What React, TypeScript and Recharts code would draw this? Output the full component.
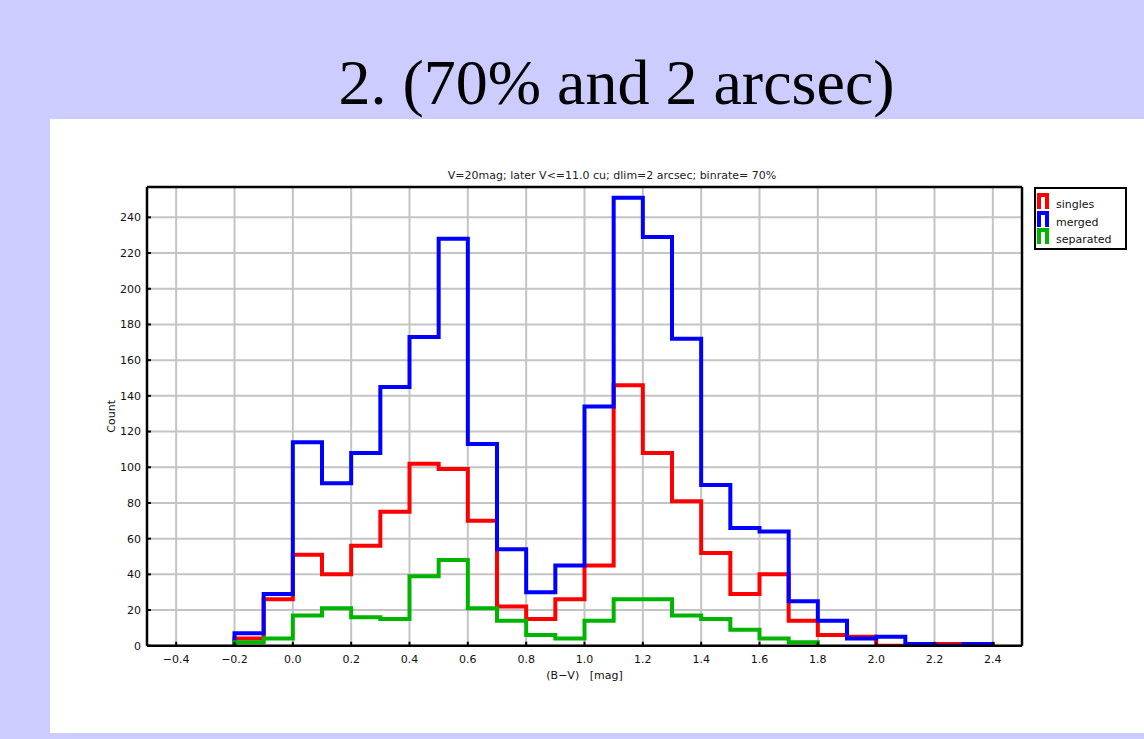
import React from 'react';
import { LineChart, Line, XAxis, YAxis, CartesianGrid } from 'recharts';

// left edge of each (B-V) bin, 0.1 mag wide
const binLefts = [
  -0.2, -0.1, 0.0, 0.1, 0.2, 0.3, 0.4, 0.5, 0.6, 0.7, 0.8, 0.9, 1.0,
  1.1, 1.2, 1.3, 1.4, 1.5, 1.6, 1.7, 1.8, 1.9, 2.0, 2.1, 2.2, 2.3,
];
const binWidth = 0.1;

const singles = [4, 26, 51, 40, 56, 75, 102, 99, 70, 22, 15, 26, 45, 146, 108, 81, 52, 29, 40, 14, 6, 5, 0, 0, 1];
const merged = [7, 29, 114, 91, 108, 145, 173, 228, 113, 54, 30, 45, 134, 251, 229, 172, 90, 66, 64, 25, 14, 4, 5, 1, 0, 1];
const separated = [2, 4, 17, 21, 16, 15, 39, 48, 21, 14, 6, 4, 14, 26, 26, 17, 15, 9, 4, 2];

const xTicks = [-0.4, -0.2, 0, 0.2, 0.4, 0.6, 0.8, 1.0, 1.2, 1.4, 1.6, 1.8, 2.0, 2.2, 2.4];
const yTicks = [0, 20, 40, 60, 80, 100, 120, 140, 160, 180, 200, 220, 240];

const seriesList = [
  { name: 'singles', counts: singles, color: '#ff0000' },
  { name: 'merged', counts: merged, color: '#0000ff' },
  { name: 'separated', counts: separated, color: '#00b400' },
];

// histogram outline: up from zero at the first edge, one step per bin, back to zero after the last
function toSteps(counts: number[]) {
  const pts = [{ x: binLefts[0], y: 0 }];
  counts.forEach((c, i) => pts.push({ x: binLefts[i], y: c }));
  const end = +(binLefts[counts.length - 1] + binWidth).toFixed(2);
  pts.push({ x: end, y: 0 });
  return pts;
}

const font = '"DejaVu Sans", Verdana, sans-serif';
const tickStyle = { fontSize: 11, fill: '#111', fontFamily: font };
const axisLine = { stroke: '#000', strokeWidth: 2.5 };
const tickLine = { stroke: '#000', strokeWidth: 2 };
const fmtX = (v: number) => v.toFixed(1).replace('-', '\u2212');

const KeyBox = () => (
  <div
    style={{
      position: 'absolute', left: 1034, top: 187, width: 93, height: 63,
      border: '2px solid #000', boxSizing: 'border-box', background: '#fff',
      paddingTop: 4, paddingLeft: 1, fontFamily: font, fontSize: 11, color: '#111',
    }}
  >
    {seriesList.map((s) => (
      <div key={s.name} style={{ display: 'flex', alignItems: 'flex-start', height: 17.5 }}>
        <svg width={12} height={16} style={{ display: 'block' }}>
          <path d="M2,16V2H10V16" fill="none" stroke={s.color} strokeWidth={4} />
        </svg>
        <span style={{ marginLeft: 7, marginTop: 5, lineHeight: '13px' }}>{s.name}</span>
      </div>
    ))}
  </div>
);

export default function App() {
  return (
    <div
      style={{
        position: 'absolute', left: 0, top: 0, width: 1144, height: 739,
        background: '#ccccff', overflow: 'hidden',
      }}
    >
      <div
        style={{
          position: 'absolute', left: 89, top: 51, width: 1055, textAlign: 'center',
          fontFamily: '"Liberation Serif", "Times New Roman", serif', fontSize: 64,
          lineHeight: '64px', color: '#000', whiteSpace: 'nowrap',
        }}
      >
        2. (70% and 2 arcsec)
      </div>
      <div style={{ position: 'absolute', left: 50, top: 119, width: 1094, height: 614, background: '#fff' }} />
      <div style={{ position: 'absolute', left: 0, top: 0 }}>
        <LineChart width={1144} height={739} margin={{ top: 187, right: 122, bottom: 57.25, left: 87 }}>
          <CartesianGrid stroke="#c4c4c4" strokeWidth={2} />
          {seriesList.map((s) => (
            <Line
              key={s.name}
              name={s.name}
              data={toSteps(s.counts)}
              dataKey="y"
              type="stepAfter"
              stroke={s.color}
              strokeWidth={4}
              strokeLinejoin="miter"
              strokeLinecap="butt"
              dot={false}
              activeDot={false}
              isAnimationActive={false}
            />
          ))}
          <XAxis
            type="number"
            dataKey="x"
            domain={[-0.5, 2.5]}
            ticks={xTicks}
            interval={0}
            height={36}
            tickSize={-4}
            tickMargin={13}
            tickFormatter={fmtX}
            tick={tickStyle}
            axisLine={axisLine}
            tickLine={tickLine}
            allowDataOverflow
            label={{
              value: '(B\u2212V)\u00a0\u00a0\u00a0[mag]',
              position: 'insideBottom',
              offset: 3,
              style: { fontSize: 11, fill: '#111', fontFamily: font },
            }}
          />
          <XAxis
            xAxisId="top"
            orientation="top"
            mirror
            type="number"
            domain={[-0.5, 2.5]}
            ticks={xTicks}
            interval={0}
            tick={false}
            tickSize={4}
            axisLine={axisLine}
            tickLine={tickLine}
          />
          <YAxis
            type="number"
            domain={[0, 257]}
            ticks={yTicks}
            interval={0}
            width={60}
            tickSize={-4}
            tickMargin={10}
            tick={tickStyle}
            axisLine={axisLine}
            tickLine={tickLine}
            allowDataOverflow
            label={{
              value: 'Count',
              angle: -90,
              position: 'insideLeft',
              offset: 24,
              style: { textAnchor: 'middle', fontSize: 11, fill: '#111', fontFamily: font },
            }}
          />
          <YAxis
            yAxisId="right"
            orientation="right"
            mirror
            type="number"
            domain={[0, 257]}
            ticks={yTicks}
            interval={0}
            tick={false}
            tickSize={4}
            axisLine={axisLine}
            tickLine={tickLine}
          />
        </LineChart>
      </div>
      <div
        style={{
          position: 'absolute', left: 0, top: 170, width: 1224, textAlign: 'center',
          fontFamily: font, fontSize: 11, lineHeight: '12px', color: '#222', whiteSpace: 'nowrap',
        }}
      >
        V=20mag; later V&lt;=11.0 cu; dlim=2 arcsec; binrate= 70%
      </div>
      <KeyBox />
    </div>
  );
}
